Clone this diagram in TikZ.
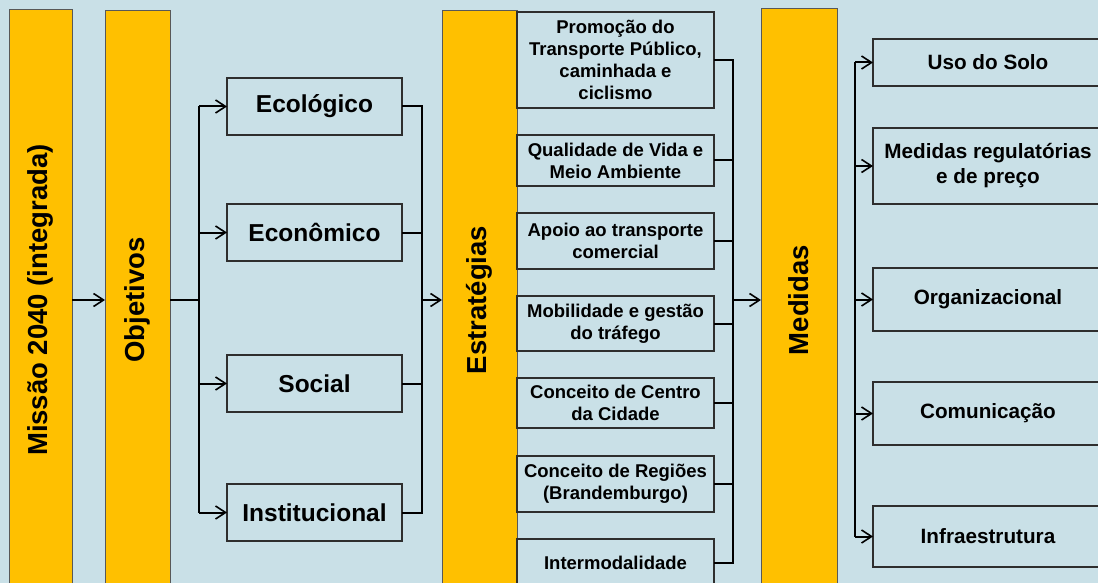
\documentclass[tikz,border=0pt]{standalone}
\usepackage{fontspec}
\setmainfont{Liberation Sans}
\usetikzlibrary{arrows.meta}
\definecolor{bg}{HTML}{C9E0E7}
\definecolor{barc}{HTML}{FFC000}
\definecolor{edgec}{HTML}{2E2E2E}
\begin{document}
\begin{tikzpicture}[x=1pt,y=-1pt,
  box/.style={draw=edgec, line width=1.3pt, fill=bg, inner sep=0pt, outer sep=0pt, anchor=north west, align=center},
  barbox/.style={draw=edgec!80, line width=1pt, fill=barc, inner sep=0pt, outer sep=0pt, anchor=north west},
  bartext/.style={rotate=90, font=\fontsize{27.5}{33}\selectfont\bfseries},
  objbox/.style={box, minimum width=175pt, minimum height=57pt, font=\fontsize{24.5}{29}\selectfont\bfseries},
  strbox/.style={box, minimum width=197pt, font=\fontsize{18.5}{22}\selectfont\bfseries},
  medbox/.style={box, minimum width=230pt, font=\fontsize{20.7}{25}\selectfont\bfseries},
  conn/.style={line width=2pt, black},
  arr/.style={conn, -{Straight Barb[length=10pt,width=13pt,line width=1.6pt]}}]
\useasboundingbox (0,0) rectangle (1098,583);
\fill[bg] (0,0) rectangle (1098,583);
% bars
\node[barbox, minimum width=63pt, minimum height=580pt] (mis) at (9,10) {};
\node[bartext] (mist) at (mis.center) {Missão 2040 (integrada)};
\node[barbox, minimum width=65pt, minimum height=578pt] (obj) at (105,11) {};
\node[bartext] (objt) at (obj.center) {Objetivos};
\node[barbox, minimum width=75pt, minimum height=578pt] (est) at (442,11) {};
\node[bartext] (estt) at (est.center) {Estratégias};
\node[barbox, minimum width=76pt, minimum height=582pt] (med) at (761,9) {};
\node[bartext] (medt) at (med.center) {Medidas};
% objectives
\node[objbox] (eco) at (227,78) {Ecológico};
\node[objbox] (econ) at (227,204) {Econômico};
\node[objbox] (soc) at (227,355) {Social};
\node[objbox] (inst) at (227,484) {Institucional};
% strategies
\node[strbox, minimum height=96pt] (s1) at (517,12) {Promoção do\\Transporte Público,\\caminhada e\\ciclismo};
\node[strbox, minimum height=51pt] (s2) at (517,135) {Qualidade de Vida e\\Meio Ambiente};
\node[strbox, minimum height=56pt] (s3) at (517,213) {Apoio ao transporte\\comercial};
\node[strbox, minimum height=55pt] (s4) at (517,296) {Mobilidade e gestão\\do tráfego};
\node[strbox, minimum height=50pt] (s5) at (517,378) {Conceito de Centro\\da Cidade};
\node[strbox, minimum height=56pt] (s6) at (517,456) {Conceito de Regiões\\(Brandemburgo)};
\node[strbox, minimum height=48pt] (s7) at (517,539) {Intermodalidade};
% measures
\node[medbox, minimum height=47pt] (m1) at (873,39) {Uso do Solo};
\node[medbox, minimum height=76pt] (m2) at (873,128) {Medidas regulatórias\\e de preço};
\node[medbox, minimum height=63pt] (m3) at (873,268) {Organizacional};
\node[medbox, minimum height=63pt] (m4) at (873,382) {Comunicação};
\node[medbox, minimum height=61pt] (m5) at (873,506) {Infraestrutura};
% trunk coordinates
\coordinate (tL) at (199,0);
\coordinate (tR) at (422,0);
\coordinate (tS) at (733,0);
\coordinate (tM) at (855,0);
% connectors
\draw[arr] (mis.east) -- (obj.west |- mis.east);
\draw[conn] (obj.east) -- (tL |- obj.east);
\draw[conn] (tL |- eco.west) -- (tL |- inst.west);
\foreach \n in {eco,econ,soc,inst} \draw[arr] (tL |- \n.west) -- (\n.west);
\draw[conn] (eco.east) -- (tR |- eco.east) -- (tR |- inst.east) -- (inst.east);
\draw[conn] (econ.east) -- (tR |- econ.east);
\draw[conn] (soc.east) -- (tR |- soc.east);
\draw[arr] (tR |- est.west) -- (est.west);
\draw[conn] (s1.east) -- (tS |- s1.east) -- (tS |- s7.east) -- (s7.east);
\foreach \n in {s2,s3,s4,s5,s6} \draw[conn] (\n.east) -- (tS |- \n.east);
\draw[arr] (tS |- med.west) -- (med.west);
\draw[conn] (tM |- m1.west) -- (tM |- m5.west);
\foreach \n in {m1,m2,m3,m4,m5} \draw[arr] (tM |- \n.west) -- (\n.west);
\end{tikzpicture}
\end{document}
